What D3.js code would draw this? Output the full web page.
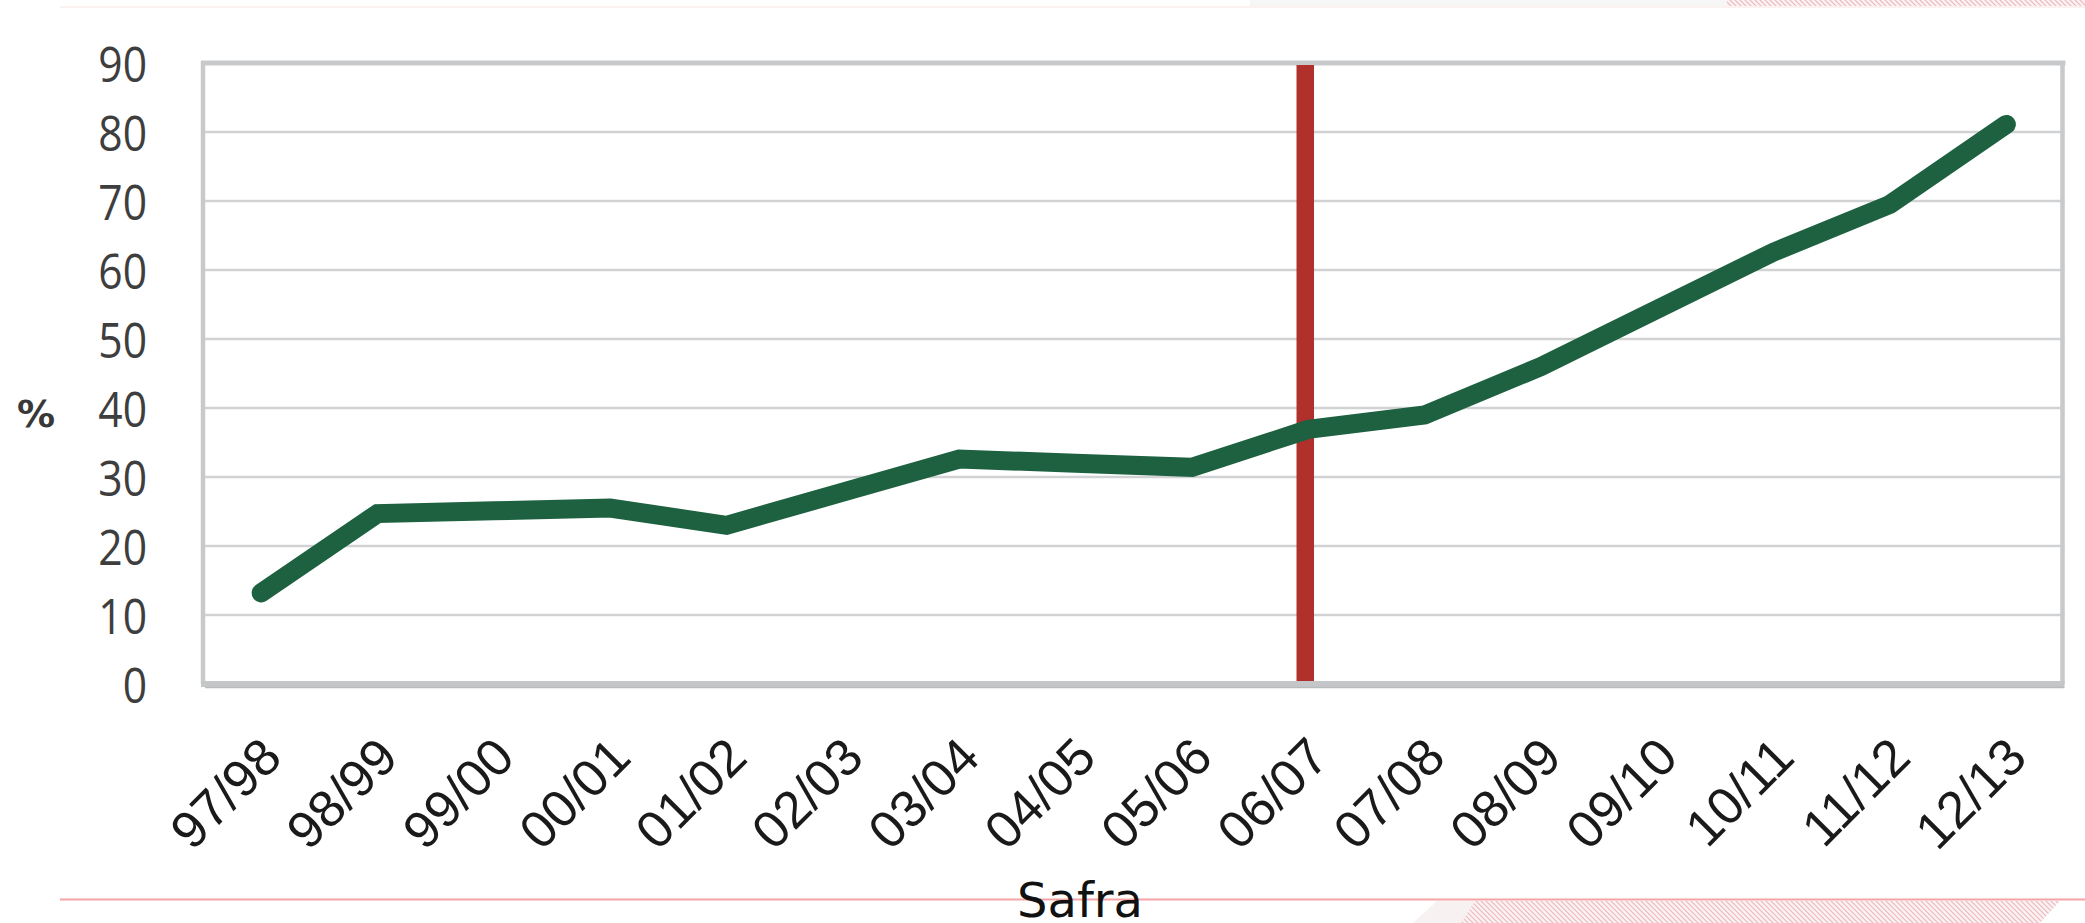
<!DOCTYPE html>
<html>
<head>
<meta charset="utf-8">
<script src="https://cdn.jsdelivr.net/npm/d3@7"></script>
<style>
  html, body { margin: 0; padding: 0; background: #ffffff; }
  svg { display: block; }
</style>
</head>
<body>
<svg id="chart" width="2085" height="923"></svg>
<script>
// Safras (crop years) on the horizontal axis
const safras = ["97/98", "98/99", "99/00", "00/01", "01/02", "02/03", "03/04", "04/05",
                "05/06", "06/07", "07/08", "08/09", "09/10", "10/11", "11/12", "12/13"];
// Percentage for each safra
const percentual = [13.2, 24.7, 25.1, 25.5, 23.0, 27.8, 32.6, 32.0,
                    31.4, 36.9, 39.0, 46.0, 54.3, 62.6, 69.5, 81.1];
// Y axis ticks
const yTicks = [0, 10, 20, 30, 40, 50, 60, 70, 80, 90];
// Safra marked by the vertical red line
const safraMarcada = ["06/07"];
const eixoX = "Safra";
const eixoY = "%";

const W = 2085, H = 923;
const plot = { left: 203, right: 2064.5, top: 63, bottom: 684 };

const svg = d3.select("#chart");

// ---- page decoration: hatched pattern, soft bands and pink frame ----
const defs = svg.append("defs");
const hatch = defs.append("pattern")
  .attr("id", "hatch").attr("patternUnits", "userSpaceOnUse")
  .attr("width", 5).attr("height", 5);
hatch.append("rect").attr("width", 5).attr("height", 5).attr("fill", "#fbf3f3");
hatch.append("path").attr("d", "M-1,-1 L6,6 M-1,4 L1,6 M4,-1 L6,1")
  .attr("stroke", "#eeb9bc").attr("stroke-width", 1.2);

const frameGrad = defs.append("linearGradient")
  .attr("id", "frameGrad").attr("x1", 0).attr("y1", 0).attr("x2", 0).attr("y2", 1);
frameGrad.append("stop").attr("offset", "0%").attr("stop-color", "#fdeaea");
frameGrad.append("stop").attr("offset", "100%").attr("stop-color", "#f39c9f");

// top strip
svg.append("rect").attr("x", 1250).attr("y", 0).attr("width", W - 1250).attr("height", 6)
  .attr("fill", "#f6f6f6");
svg.append("rect").attr("x", 1727).attr("y", 0).attr("width", W - 1727).attr("height", 6)
  .attr("fill", "url(#hatch)");
svg.append("line").attr("x1", 60).attr("x2", W).attr("y1", 7).attr("y2", 7)
  .attr("stroke", "#fdeeee").attr("stroke-width", 1.5);

// bottom strip
svg.append("path").attr("d", "M1413,923 L1437,901 L1475,901 L1461,923 Z").attr("fill", "#f8f1f1");
svg.append("path").attr("d", "M1461,923 L1475,901 L2060,901 L2040,923 Z").attr("fill", "url(#hatch)");

// pink frame
svg.append("line").attr("x1", 61).attr("x2", 61).attr("y1", 7).attr("y2", 900)
  .attr("stroke", "url(#frameGrad)").attr("stroke-width", 2);
svg.append("line").attr("x1", 60).attr("x2", W).attr("y1", 899.5).attr("y2", 899.5)
  .attr("stroke", "#f4a4a6").attr("stroke-width", 2.2);

// ---- scales ----
const x = d3.scalePoint().domain(safras).range([plot.left, plot.right]).padding(0.5);
const y = d3.scaleLinear().domain([0, 90]).range([plot.bottom, plot.top]);

// ---- gridlines ----
svg.append("g").selectAll("line")
  .data(yTicks.filter(d => d > 0 && d < 90))
  .join("line")
  .attr("x1", plot.left).attr("x2", plot.right)
  .attr("y1", d => y(d)).attr("y2", d => y(d))
  .attr("stroke", "#d1d2d4").attr("stroke-width", 2.4);

// ---- plot frame ----
svg.append("line").attr("x1", plot.left - 2).attr("x2", plot.right + 1)
  .attr("y1", y(90)).attr("y2", y(90)).attr("stroke", "#c8c9cb").attr("stroke-width", 5);
svg.append("line").attr("x1", plot.left).attr("x2", plot.left)
  .attr("y1", y(90) - 2).attr("y2", y(0)).attr("stroke", "#c8c9cb").attr("stroke-width", 4.5);
svg.append("line").attr("x1", plot.right - 2).attr("x2", plot.right - 2)
  .attr("y1", y(90) - 2).attr("y2", y(0)).attr("stroke", "#c8c9cb").attr("stroke-width", 4.5);
svg.append("line").attr("x1", plot.left - 2).attr("x2", plot.right)
  .attr("y1", y(0)).attr("y2", y(0)).attr("stroke", "#c5c6c8").attr("stroke-width", 6);
svg.append("line").attr("x1", plot.left + 2).attr("x2", plot.right)
  .attr("y1", y(0) + 3.5).attr("y2", y(0) + 3.5).attr("stroke", "#b9babc").attr("stroke-width", 1.5);

// ---- y axis labels ----
const yAxis = d3.axisLeft(y).tickValues(yTicks).tickSize(0).tickPadding(0);
const gy = svg.append("g").attr("transform", "translate(147,0)").call(yAxis);
gy.select(".domain").remove();
gy.selectAll(".tick text")
  .attr("x", 0).attr("dy", "0.38em")
  .attr("transform", "scale(0.87,1)")
  .style("font-family", "'Open Sans', sans-serif")
  .style("font-size", "49px")
  .attr("fill", "#3e3e3e");

// ---- x axis labels, rotated ----
svg.append("g").selectAll("text")
  .data(safras)
  .join("text")
  .attr("transform", d => `translate(${x(d) + 23},${plot.bottom + 76}) rotate(-45)`)
  .attr("text-anchor", "end")
  .style("font-family", "'Liberation Sans', Arial, sans-serif")
  .style("font-size", "52px")
  .attr("fill", "#1a1a1a")
  .text(d => d);

// ---- red marker line ----
svg.append("g").selectAll("line")
  .data(safraMarcada)
  .join("line")
  .attr("x1", d => x(d) - 3).attr("x2", d => x(d) - 3)
  .attr("y1", y(90) + 2).attr("y2", y(0) - 3)
  .attr("stroke", "#b0302c").attr("stroke-width", 17.5);

// ---- data line ----
const serie = safras.map((s, i) => ({ safra: s, valor: percentual[i] }));
const linha = d3.line().x(d => x(d.safra)).y(d => y(d.valor));
svg.append("path")
  .datum(serie)
  .attr("d", linha)
  .attr("fill", "none")
  .attr("stroke", "#1d6141")
  .attr("stroke-width", 19)
  .attr("stroke-linecap", "round")
  .attr("stroke-linejoin", "miter");

// ---- axis titles ----
svg.append("text")
  .attr("x", 17).attr("y", 427)
  .style("font-family", "'DejaVu Sans', Verdana, sans-serif")
  .style("font-weight", "bold")
  .style("font-size", "38px")
  .attr("fill", "#383838")
  .text(eixoY);

svg.append("text")
  .attr("x", 1080).attr("y", 917)
  .attr("text-anchor", "middle")
  .style("font-family", "'DejaVu Sans', Verdana, sans-serif")
  .style("font-size", "48px")
  .attr("fill", "#111111")
  .text(eixoX);
</script>
</body>
</html>
